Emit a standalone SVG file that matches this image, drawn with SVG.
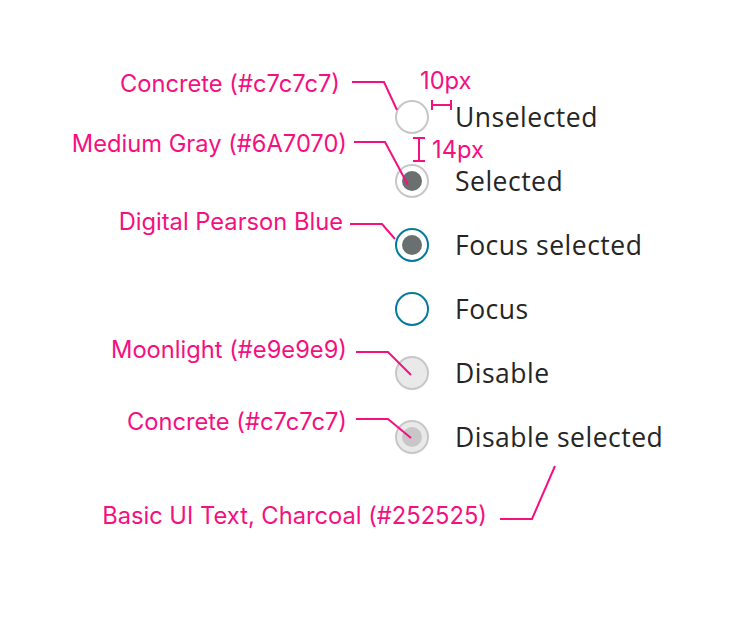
<svg xmlns="http://www.w3.org/2000/svg" width="740" height="624" viewBox="0 0 740 624">
<style>
.lbl{font-family:Inter,"Liberation Sans",sans-serif;font-size:23.7px;fill:#f5107f;text-anchor:end}
.dim{font-family:Inter,"Liberation Sans",sans-serif;font-size:23.7px;fill:#f5107f}
.txt{font-family:"Open Sans","Noto Sans",sans-serif;font-size:26.5px;letter-spacing:0.5px;fill:#252525}
.ld{fill:none;stroke:#f5107f;stroke-width:2}
.gray{stroke:#c7c7c7;stroke-width:2}
.blue{stroke:#047a9c;stroke-width:2}
</style>
<rect width="740" height="624" fill="#ffffff"/>
<g id="unselected">
<circle cx="412" cy="117" r="16" fill="#ffffff" class="gray"/>
<text x="455" y="127" class="txt">Unselected</text>
</g>
<g id="selected">
<circle cx="412" cy="181" r="16" fill="#ffffff" class="gray"/>
<circle cx="412" cy="181" r="10" fill="#6a7070"/>
<text x="455" y="191" class="txt">Selected</text>
</g>
<g id="focus-selected">
<circle cx="412" cy="245" r="16" fill="#ffffff" class="blue"/>
<circle cx="412" cy="245" r="10" fill="#6a7070"/>
<text x="455" y="255" class="txt">Focus selected</text>
</g>
<g id="focus">
<circle cx="412" cy="309" r="16" fill="#ffffff" class="blue"/>
<text x="455" y="319" class="txt">Focus</text>
</g>
<g id="disable">
<circle cx="412" cy="373" r="16" fill="#e9e9e9" class="gray"/>
<text x="455" y="383" class="txt">Disable</text>
</g>
<g id="disable-selected">
<circle cx="412" cy="437" r="16" fill="#e9e9e9" class="gray"/>
<circle cx="412" cy="437" r="10" fill="#c7c7c7"/>
<text x="455" y="447" class="txt">Disable selected</text>
</g>
<g id="labels">
<text x="340" y="92" class="lbl">Concrete (#c7c7c7)</text>
<text x="347" y="152" class="lbl">Medium Gray (#6A7070)</text>
<text x="343" y="230" class="lbl">Digital Pearson Blue</text>
<text x="347" y="358" class="lbl">Moonlight (#e9e9e9)</text>
<text x="347" y="430" class="lbl">Concrete (#c7c7c7)</text>
<text x="487" y="524" class="lbl">Basic UI Text, Charcoal (#252525)</text>
<text x="420" y="89" class="dim">10px</text>
<text x="432" y="158" class="dim">14px</text>
</g>
<g id="connectors">
<polyline class="ld" points="352,82 384,82 397,110"/>
<polyline class="ld" points="354,142 385,142 408,185"/>
<polyline class="ld" points="350,224 382,224 395,239"/>
<polyline class="ld" points="356,352 388,352 411,375"/>
<polyline class="ld" points="356,419 388,419 411,438"/>
<polyline class="ld" points="500,519 532,519 555,466"/>
<path class="ld" d="M432,105 H451 M432,100 V110 M451,100 V110"/>
<path class="ld" d="M419,138 V161 M413,138 H425 M413,161 H425"/>
</g>
</svg>
